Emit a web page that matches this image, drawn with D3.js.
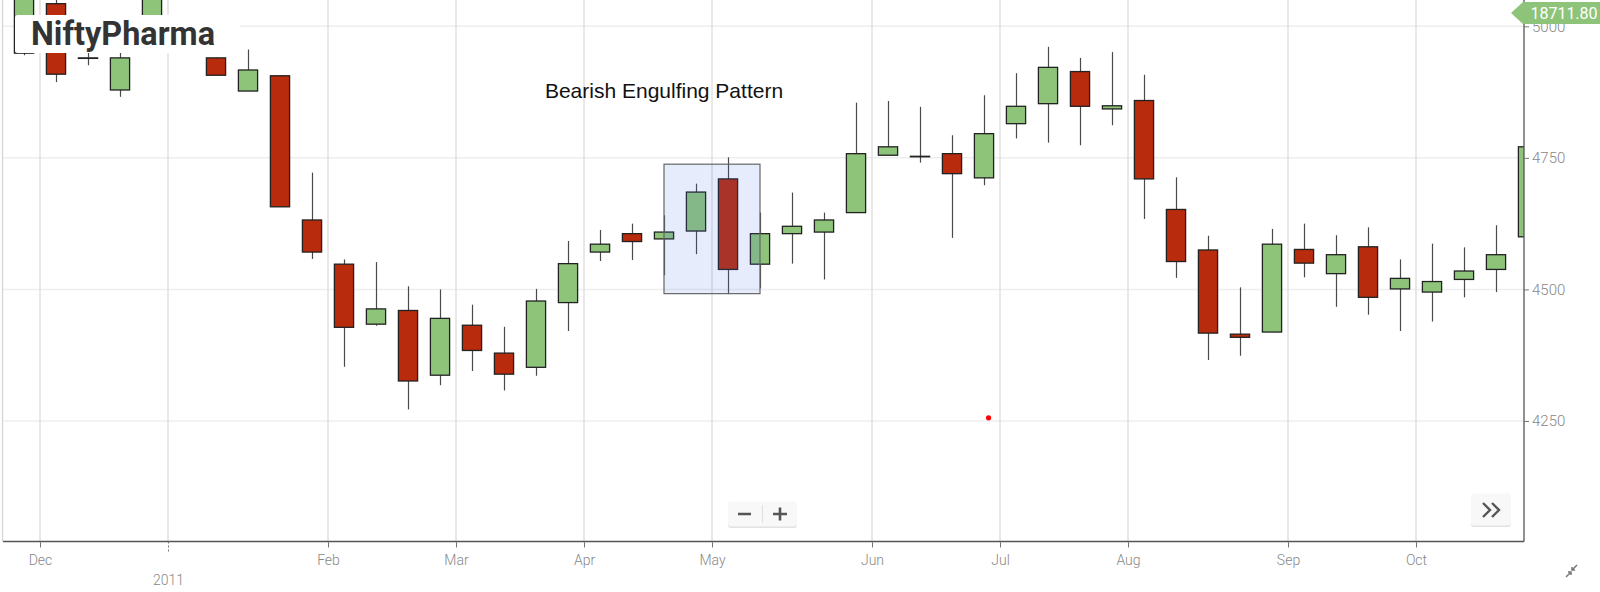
<!DOCTYPE html>
<html>
<head>
<meta charset="utf-8">
<script src="https://cdn.jsdelivr.net/npm/d3@7/dist/d3.min.js"></script>
<style>
  body { margin: 0; background: #fff; }
  svg { display: block; }
</style>
</head>
<body>
<svg id="chart"></svg>
<script>
// weekly candles, dated by the Monday of each week
const weeks = [
  '2010-11-29', '2010-12-06', '2010-12-13', '2010-12-20', '2010-12-27',
  '2011-01-03', '2011-01-10', '2011-01-17', '2011-01-24', '2011-01-31',
  '2011-02-07', '2011-02-14', '2011-02-21', '2011-02-28',
  '2011-03-07', '2011-03-14', '2011-03-21', '2011-03-28',
  '2011-04-04', '2011-04-11', '2011-04-18', '2011-04-25',
  '2011-05-02', '2011-05-09', '2011-05-16', '2011-05-23', '2011-05-30',
  '2011-06-06', '2011-06-13', '2011-06-20', '2011-06-27',
  '2011-07-04', '2011-07-11', '2011-07-18', '2011-07-25',
  '2011-08-01', '2011-08-08', '2011-08-15', '2011-08-22', '2011-08-29',
  '2011-09-05', '2011-09-12', '2011-09-19', '2011-09-26',
  '2011-10-03', '2011-10-10', '2011-10-17', '2011-10-24'
];
const open = [
  4949, 5043, 4940, 4879, 4985, 5012, 4940, 4877, 4906, 4632,
  4548, 4434, 4460, 4337, 4432, 4379, 4352, 4475, 4571, 4606,
  4596, 4611, 4710, 4548, 4606, 4609, 4646, 4755, 4753, 4758,
  4712, 4815, 4853, 4914, 4843, 4859, 4652, 4575, 4415, 4419,
  4576, 4530, 4581, 4501, 4495, 4519, 4538, 4600
];
const high = [
  5085, 5060, 4972, 4962, 5080, 5018, 4941, 4956, 4907, 4722,
  4557, 4552, 4506, 4500, 4471, 4429, 4501, 4592, 4613, 4625,
  4641, 4701, 4751, 4646, 4684, 4646, 4855, 4858, 4847, 4793,
  4869, 4911, 4961, 4940, 4951, 4908, 4713, 4602, 4504, 4615,
  4625, 4603, 4618, 4557, 4587, 4580, 4622, 4790
];
const low = [
  4945, 4894, 4926, 4866, 4978, 4955, 4907, 4877, 4657, 4558,
  4353, 4431, 4272, 4318, 4345, 4308, 4336, 4421, 4554, 4556,
  4527, 4567, 4491, 4502, 4549, 4519, 4646, 4755, 4741, 4598,
  4698, 4787, 4779, 4774, 4812, 4634, 4522, 4366, 4374, 4419,
  4523, 4467, 4452, 4421, 4439, 4485, 4495, 4590
];
const close = [
  5075, 4909, 4940, 4940, 5072, 4962, 4907, 4917, 4657, 4571,
  4428, 4463, 4326, 4445, 4384, 4339, 4478, 4549, 4586, 4591,
  4609, 4685, 4538, 4606, 4620, 4632, 4758, 4771, 4753, 4720,
  4796, 4848, 4922, 4848, 4849, 4710, 4553, 4417, 4409, 4586,
  4550, 4566, 4485, 4521, 4515, 4535, 4566, 4771
];
const yTicks = [4250, 4500, 4750, 5000];

// annotation: the highlighted pattern
const patternWeeks = ['2011-04-18', '2011-05-09'];
const patternRange = [4492, 4738];
const patternLabel = 'Bearish Engulfing Pattern';
const patternLabelAt = ['2011-04-18', 4864];

// lone marker point
const markerDate = '2011-06-28';
const markerValue = 4256;

const title = 'NiftyPharma';
const lastLabel = '18711.80';

const width = 1600;
const height = 592;
const plot = { left: 3, right: 1524, top: 0, bottom: 541.5 };

const red = '#b82b0c';
const green = '#8ec47a';

const parse = d3.utcParse('%Y-%m-%d');
const dates = weeks.map(parse);
const candles = dates.map((d, i) => ({
  date: d, open: open[i], high: high[i], low: low[i], close: close[i]
}));

const svg = d3.select('#chart')
  .attr('width', width)
  .attr('height', height)
  .style('font-family', 'Roboto, sans-serif');

const x = d3.scaleUtc()
  .domain([dates[0], dates[dates.length - 1]])
  .range([24, 1528]);
const step = x(dates[1]) - x(dates[0]);
const bodyWidth = step * 0.6;

// month boundaries sit half a week left of the first candle of each month
const xTick = x.copy().range(x.range().map(v => v - step / 2));
const monthStarts = dates.filter((d, i) => i > 0 && d.getUTCMonth() !== dates[i - 1].getUTCMonth());

const y = d3.scaleLinear()
  .domain([4021, 5050])
  .range([plot.bottom, plot.top]);

svg.append('defs').append('clipPath')
  .attr('id', 'plot-clip')
  .append('rect')
  .attr('x', plot.left)
  .attr('y', plot.top)
  .attr('width', plot.right - plot.left)
  .attr('height', plot.bottom - plot.top);

// grid
svg.append('g')
  .selectAll('line')
  .data(yTicks)
  .join('line')
  .attr('x1', plot.left)
  .attr('x2', plot.right)
  .attr('y1', d => y(d))
  .attr('y2', d => y(d))
  .attr('stroke', '#eeeeee')
  .attr('stroke-width', 1.5);

svg.append('g')
  .selectAll('line')
  .data(monthStarts)
  .join('line')
  .attr('x1', d => xTick(d))
  .attr('x2', d => xTick(d))
  .attr('y1', plot.top)
  .attr('y2', plot.bottom)
  .attr('stroke', '#dcdcdc')
  .attr('stroke-width', 1.3);

svg.append('line')
  .attr('x1', 2.5).attr('x2', 2.5)
  .attr('y1', plot.top).attr('y2', plot.bottom)
  .attr('stroke', '#d6d6d6')
  .attr('stroke-width', 1.3);

// candles
const cg = svg.append('g').attr('clip-path', 'url(#plot-clip)');

cg.selectAll('line.wick')
  .data(candles)
  .join('line')
  .attr('class', 'wick')
  .attr('x1', d => Math.round(x(d.date)) + 0.5)
  .attr('x2', d => Math.round(x(d.date)) + 0.5)
  .attr('y1', d => y(d.high))
  .attr('y2', d => y(d.low))
  .attr('stroke', '#4a4a4a')
  .attr('stroke-width', 1.2);

cg.selectAll('rect.body')
  .data(candles)
  .join('rect')
  .attr('class', 'body')
  .attr('x', d => x(d.date) - bodyWidth / 2)
  .attr('width', bodyWidth)
  .attr('y', d => y(Math.max(d.open, d.close)))
  .attr('height', d => Math.max(0.5, Math.abs(y(d.open) - y(d.close))))
  .attr('fill', d => d.close >= d.open ? green : red)
  .attr('stroke', '#222')
  .attr('stroke-width', 1.3);

// pattern highlight, drawn over the candles
const pw = patternWeeks.map(parse);
svg.append('rect')
  .attr('x', x(pw[0]))
  .attr('y', y(patternRange[1]))
  .attr('width', x(pw[1]) - x(pw[0]))
  .attr('height', y(patternRange[0]) - y(patternRange[1]))
  .attr('fill', 'rgba(70,110,230,0.13)')
  .attr('stroke', '#666')
  .attr('stroke-width', 1.2);

svg.append('text')
  .attr('x', x(parse(patternLabelAt[0])))
  .attr('y', y(patternLabelAt[1]))
  .attr('text-anchor', 'middle')
  .attr('font-family', '"Liberation Sans", Arial, sans-serif')
  .attr('font-size', 21)
  .attr('fill', '#111')
  .text(patternLabel);

svg.append('circle')
  .attr('cx', x(parse(markerDate)))
  .attr('cy', y(markerValue))
  .attr('r', 2.6)
  .attr('fill', '#ff0000');

// axes
svg.append('line')
  .attr('x1', plot.left).attr('x2', plot.right)
  .attr('y1', plot.bottom).attr('y2', plot.bottom)
  .attr('stroke', '#555')
  .attr('stroke-width', 1.3);

svg.append('line')
  .attr('x1', plot.right).attr('x2', plot.right)
  .attr('y1', plot.top).attr('y2', plot.bottom)
  .attr('stroke', '#555')
  .attr('stroke-width', 1.3);

const yAxis = svg.append('g')
  .attr('transform', `translate(${plot.right},0)`)
  .call(d3.axisRight(y).tickValues(yTicks).tickSize(5).tickPadding(3).tickFormat(d3.format('d')));
yAxis.select('.domain').remove();
yAxis.selectAll('line').attr('stroke', '#777');
yAxis.selectAll('text')
  .attr('font-family', 'Roboto, sans-serif')
  .attr('font-size', 15)
  .attr('font-weight', 300)
  .attr('fill', '#888');

const xAxis = svg.append('g')
  .attr('transform', `translate(0,${plot.bottom})`)
  .call(d3.axisBottom(xTick)
    .tickValues(monthStarts)
    .tickSize(6)
    .tickPadding(8)
    .tickFormat(d => d.getUTCMonth() === 0 ? d3.utcFormat('%Y')(d) : d3.utcFormat('%b')(d)));
xAxis.select('.domain').remove();
xAxis.selectAll('line').attr('stroke', '#777');
xAxis.selectAll('text')
  .attr('font-family', 'Roboto, sans-serif')
  .attr('font-size', 14)
  .attr('font-weight', 300)
  .attr('fill', '#888');
// year boundary: dotted tick and the year on a second row
const yearTicks = xAxis.selectAll('.tick').filter(d => d.getUTCMonth() === 0);
yearTicks.select('line').attr('y2', 12).attr('stroke-dasharray', '2,2');
yearTicks.select('text').attr('y', 34);

// title
svg.append('rect')
  .attr('x', 15).attr('y', 15)
  .attr('width', 225).attr('height', 38)
  .attr('rx', 3)
  .attr('fill', '#fff');
svg.append('text')
  .attr('x', 31)
  .attr('y', 45)
  .attr('font-family', 'Roboto, sans-serif')
  .attr('font-weight', 700)
  .attr('font-size', 34)
  .attr('textLength', 184)
  .attr('lengthAdjust', 'spacingAndGlyphs')
  .attr('fill', '#333')
  .text(title);

// last value flag
svg.append('path')
  .attr('d', 'M1511,13 L1523,2 L1600,2 L1600,24 L1523,24 Z')
  .attr('fill', green);
svg.append('text')
  .attr('x', 1564)
  .attr('y', 19)
  .attr('text-anchor', 'middle')
  .attr('font-family', 'Roboto, sans-serif')
  .attr('font-size', 16)
  .attr('fill', '#fff')
  .text(lastLabel);

// zoom buttons
const btn = svg.append('g');
btn.append('rect')
  .attr('x', 728).attr('y', 503).attr('width', 69).attr('height', 25).attr('rx', 3)
  .attr('fill', '#e2e2e2');
btn.append('rect')
  .attr('x', 728).attr('y', 501.5).attr('width', 69).attr('height', 25).attr('rx', 3)
  .attr('fill', '#f8f8f8');
btn.append('line')
  .attr('x1', 762.5).attr('x2', 762.5).attr('y1', 505).attr('y2', 523)
  .attr('stroke', '#e0e0e0');
btn.append('path')
  .attr('d', 'M738,514 H751 M773,514 H787 M780,507.5 V520.5')
  .attr('stroke', '#555').attr('stroke-width', 2.6).attr('fill', 'none');

const btn2 = svg.append('g');
btn2.append('rect')
  .attr('x', 1471).attr('y', 495).attr('width', 40).attr('height', 32).attr('rx', 3)
  .attr('fill', '#e2e2e2');
btn2.append('rect')
  .attr('x', 1471).attr('y', 493.5).attr('width', 40).attr('height', 32).attr('rx', 3)
  .attr('fill', '#f8f8f8');
btn2.append('path')
  .attr('d', 'M1483,503 L1490,510 L1483,517 M1492,503 L1499,510 L1492,517')
  .attr('stroke', '#555').attr('stroke-width', 2.4).attr('fill', 'none');

svg.append('path')
  .attr('d', 'M1566,577 L1571,572 M1568,572 H1571 V575 M1577,565 L1572,570 M1572,567 V570 H1575')
  .attr('stroke', '#777').attr('stroke-width', 1.5).attr('fill', 'none');
</script>
</body>
</html>
